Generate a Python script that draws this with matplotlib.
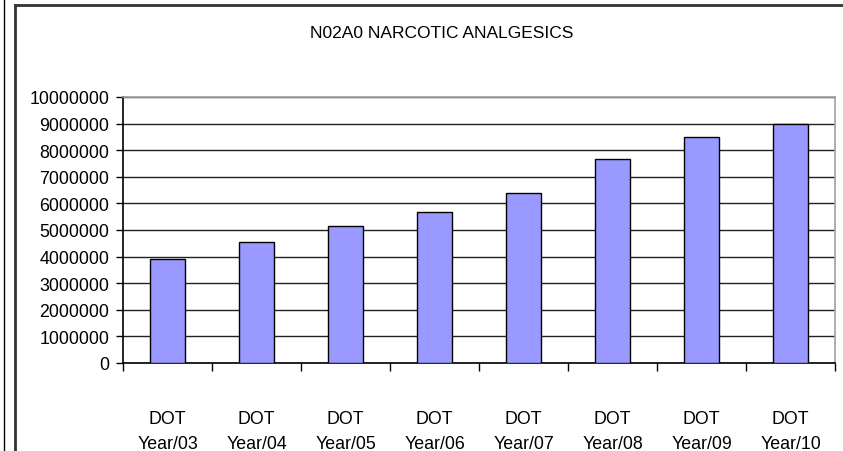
import matplotlib.pyplot as plt
from matplotlib.lines import Line2D
from matplotlib.ticker import FixedLocator

# Data
years = ['03', '04', '05', '06', '07', '08', '09', '10']
labels = ['DOT\nYear/' + y for y in years]
values = [3900000, 4550000, 5160000, 5690000, 6380000, 7680000, 8500000, 9000000]
yticks = [0, 1000000, 2000000, 3000000, 4000000, 5000000,
          6000000, 7000000, 8000000, 9000000, 10000000]

plt.rcParams['font.family'] = ['Liberation Sans', 'DejaVu Sans']

fig = plt.figure(figsize=(8.43, 4.52), dpi=100)
W, H = 843, 452
ax = fig.add_axes([123 / W, 1 - 364 / H, (835 - 123) / W, (364 - 98) / H])

x = list(range(len(values)))
ax.bar(x, values, width=0.4, color='#9999ff', edgecolor='black', linewidth=1.0, zorder=3)

ax.set_xlim(-0.5, len(values) - 0.5)
ax.set_ylim(0, 10000000)
ax.set_yticks(yticks)
ax.set_yticklabels([str(v) for v in yticks], fontsize=12.8)
ax.yaxis.grid(True, color='#222222', linewidth=1.0, zorder=0)

# category labels centred, tick marks on category boundaries
ax.xaxis.set_major_locator(FixedLocator([i - 0.5 for i in range(len(values) + 1)]))
ax.set_xticklabels([''] * (len(values) + 1))
ax.xaxis.set_minor_locator(FixedLocator(x))
ax.set_xticklabels(labels, minor=True, fontsize=12.8, linespacing=1.6)
ax.tick_params(axis='x', which='minor', length=0, pad=34)
ax.tick_params(axis='x', which='major', length=6, width=1, direction='out')
ax.tick_params(axis='y', length=5, width=1, direction='out', pad=5)

ax.spines['left'].set_color('black')
ax.spines['bottom'].set_color('black')
ax.spines['top'].set_color('#a0a0a0')
ax.spines['right'].set_color('#a0a0a0')
for s in ax.spines.values():
    s.set_linewidth(1.2)

fig.text(442 / W, 1 - 33 / H, 'N02A0 NARCOTIC ANALGESICS', ha='center', va='center', fontsize=12.5)

# outer chart frame
fig.add_artist(Line2D([15 / W, 15 / W], [0, 1 - 6 / H], color='#333333', lw=2))
fig.add_artist(Line2D([15 / W, 1], [1 - 6 / H, 1 - 6 / H], color='#333333', lw=2))
fig.add_artist(Line2D([4 / W, 4 / W], [0, 1], color='black', lw=1))

fig.savefig('out.png', dpi=100)
